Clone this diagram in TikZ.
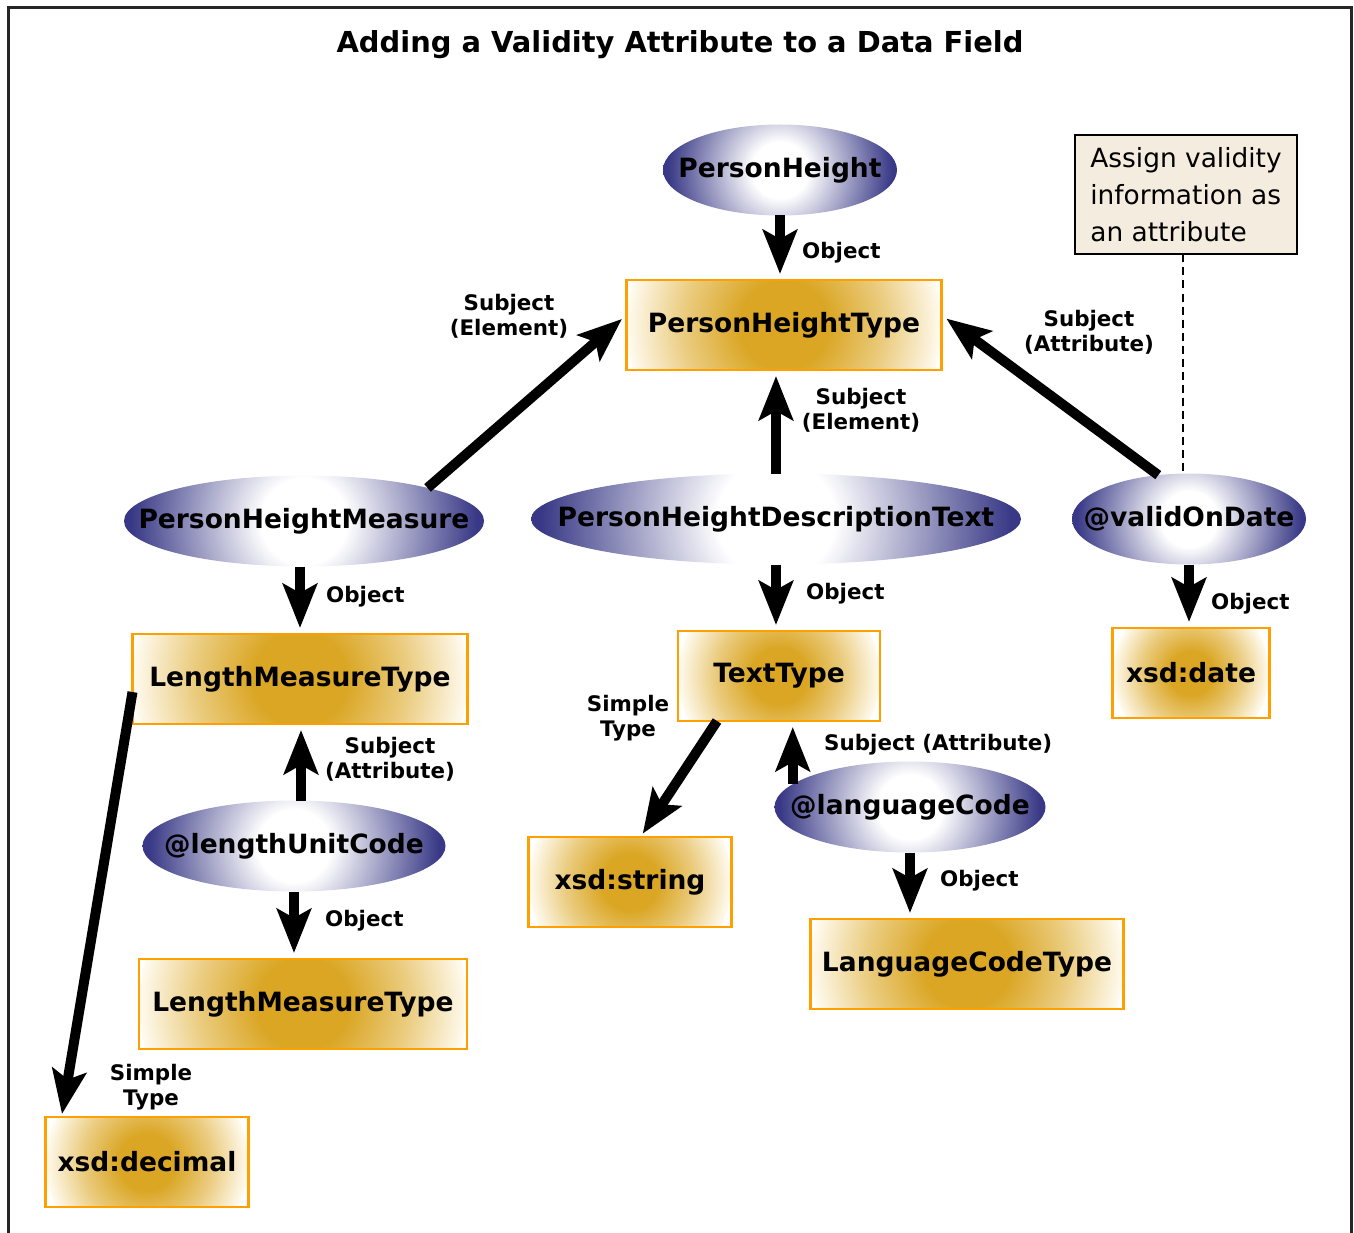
\documentclass[tikz,border=0pt]{standalone}
\usepackage{fontspec}
\setmainfont{DejaVu Sans}
\usetikzlibrary{arrows.meta,shapes.geometric}

\definecolor{ovalblue}{RGB}{56,56,134}
\definecolor{boxgold}{RGB}{218,166,36}
\definecolor{boxcream}{RGB}{255,251,240}
\colorlet{boxmid}{boxgold!55!boxcream}
\definecolor{boxedge}{RGB}{255,160,0}
\definecolor{notefill}{RGB}{245,236,224}

% the [-25bp,25bp] square of a shading is fitted to the shaded circle
\pgfdeclareradialshading{ovalfill}{\pgfpoint{0bp}{0bp}}{color(0bp)=(white); color(6bp)=(white); color(24bp)=(ovalblue); color(50bp)=(ovalblue)}
\pgfdeclareradialshading{boxfill}{\pgfpoint{0bp}{0bp}}{color(0bp)=(boxgold); color(7bp)=(boxgold); color(16bp)=(boxmid); color(25bp)=(boxcream); color(50bp)=(boxcream)}

\newcommand\nodetxt{\fontsize{26.5}{31}\selectfont\bfseries}
\newcommand\lbltxt{\fontsize{21.4}{25}\selectfont\bfseries}
\newcommand\titletxt{\fontsize{28.9}{34}\selectfont\bfseries}
\newcommand\notetxt{\fontsize{26.4}{37}\selectfont}

\tikzset{
  oval/.style={ellipse, minimum width=#1, minimum height=91pt, inner sep=0pt, outer sep=0pt, font=\nodetxt,
    path picture={\shade[shading=ovalfill] (path picture bounding box.center) circle (#1/2);}},
  typebox/.style={rectangle, draw=boxedge, line width=2.5pt, minimum width=#1, minimum height=90pt,
    inner sep=0pt, outer sep=0pt, font=\nodetxt,
    path picture={\shade[shading=boxfill] (path picture bounding box.center) circle (#1/2);}},
  note/.style={rectangle, draw=black, line width=2pt, fill=notefill, align=left, font=\notetxt,
    inner xsep=15pt, minimum width=222pt, minimum height=119pt, outer sep=0pt},
  link/.style={line width=10pt, -{Stealth[length=44pt, width=34pt, inset=9pt]}, shorten >=6pt},
  lbl/.style={font=\lbltxt, align=center, inner sep=0pt},
}

\begin{document}
\begin{tikzpicture}[x=1pt, y=-1pt]
  \useasboundingbox (0,0) rectangle (1354,1233);
  \draw[line width=3pt, black!85] (8,1240) -- (8,8) -- (1351,8) -- (1351,1240);

  \node[lbl, font=\titletxt] (title) at (680,45) {Adding a Validity Attribute to a Data Field};

  % top
  \node[oval=234pt] (ph) at (780,170) {\makebox[0pt]{PersonHeight}};
  \node[typebox=315pt] (pht) at (784,325) {PersonHeightType};
  \node[note] (nt) at (1186,195) {Assign validity\\information as\\an attribute};

  % middle row
  \node[oval=360pt] (phm) at (304,521) {\makebox[0pt]{PersonHeightMeasure}};
  \node[oval=490pt] (phdt) at (776,519) {\makebox[0pt]{PersonHeightDescriptionText}};
  \node[oval=234pt] (vod) at (1189,519) {\makebox[0pt]{@validOnDate}};

  \node[typebox=335pt] (lmt) at (300,679) {LengthMeasureType};
  \node[typebox=202pt] (tt) at (779,676) {TextType};
  \node[typebox=157pt] (xdate) at (1191,673) {xsd:date};

  % lower part
  \node[oval=303pt] (luc) at (294,846) {\makebox[0pt]{@lengthUnitCode}};
  \node[oval=271pt] (lc) at (910,807) {\makebox[0pt]{@languageCode}};
  \node[typebox=203pt] (xstr) at (630,882) {xsd:string};
  \node[typebox=328pt] (lmtb) at (303,1004) {LengthMeasureType};
  \node[typebox=313pt] (lct) at (967,964) {LanguageCodeType};
  \node[typebox=203pt] (xdec) at (147,1162) {xsd:decimal};

  % connectors
  \draw[link] (ph.south) -- (ph.south |- pht.north);
  \draw[link] (phm.15) -- ([yshift=10pt]pht.west);
  \draw[link] (phdt.north) -- (phdt.north |- pht.south);
  \draw[link] (vod.125) -- ([yshift=10pt]pht.east);
  \draw[line width=2pt, dash pattern=on 8pt off 5pt] ([xshift=-3pt]nt.south) -- ([xshift=-3pt]nt.south |- vod.north);
  \draw[link] (lmt.north |- phm.south) -- (lmt.north);
  \draw[link] (phdt.south) -- (phdt.south |- tt.north);
  \draw[link] (vod.south) -- (vod.south |- xdate.north);
  \draw[link] ([xshift=7pt]luc.north) -- ([xshift=7pt]luc.north |- lmt.south);
  \draw[link] (luc.south) -- (luc.south |- lmtb.north);
  \draw[link, shorten >=3pt] ([yshift=-13pt]lmt.west) -- ([xshift=16pt]xdec.north west);
  \draw[link, shorten >=4pt] ([xshift=39pt]tt.south west) -- ([xshift=112pt]xstr.north west);
  \draw[link] (lc.169) -- (lc.169 |- tt.south);
  \draw[link] (lc.south) -- (lc.south |- lct.north);

  % labels
  \node[lbl, anchor=west] (o1) at (802,253) {Object};
  \node[lbl] (se1) at (509,316) {Subject\\(Element)};
  \node[lbl] (se2) at (861,410) {Subject\\(Element)};
  \node[lbl] (sa1) at (1089,332) {Subject\\(Attribute)};
  \node[lbl, anchor=west] (o2) at (326,597) {Object};
  \node[lbl, anchor=west] (o3) at (806,594) {Object};
  \node[lbl, anchor=west] (o4) at (1211,604) {Object};
  \node[lbl] (sa2) at (390,759) {Subject\\(Attribute)};
  \node[lbl, anchor=west] (sa3) at (824,745) {Subject (Attribute)};
  \node[lbl] (st1) at (628,718) {Simple\\Type};
  \node[lbl, anchor=west] (o5) at (325,921) {Object};
  \node[lbl, anchor=west] (o6) at (940,881) {Object};
  \node[lbl] (st2) at (151,1087) {Simple\\Type};
\end{tikzpicture}
\end{document}
